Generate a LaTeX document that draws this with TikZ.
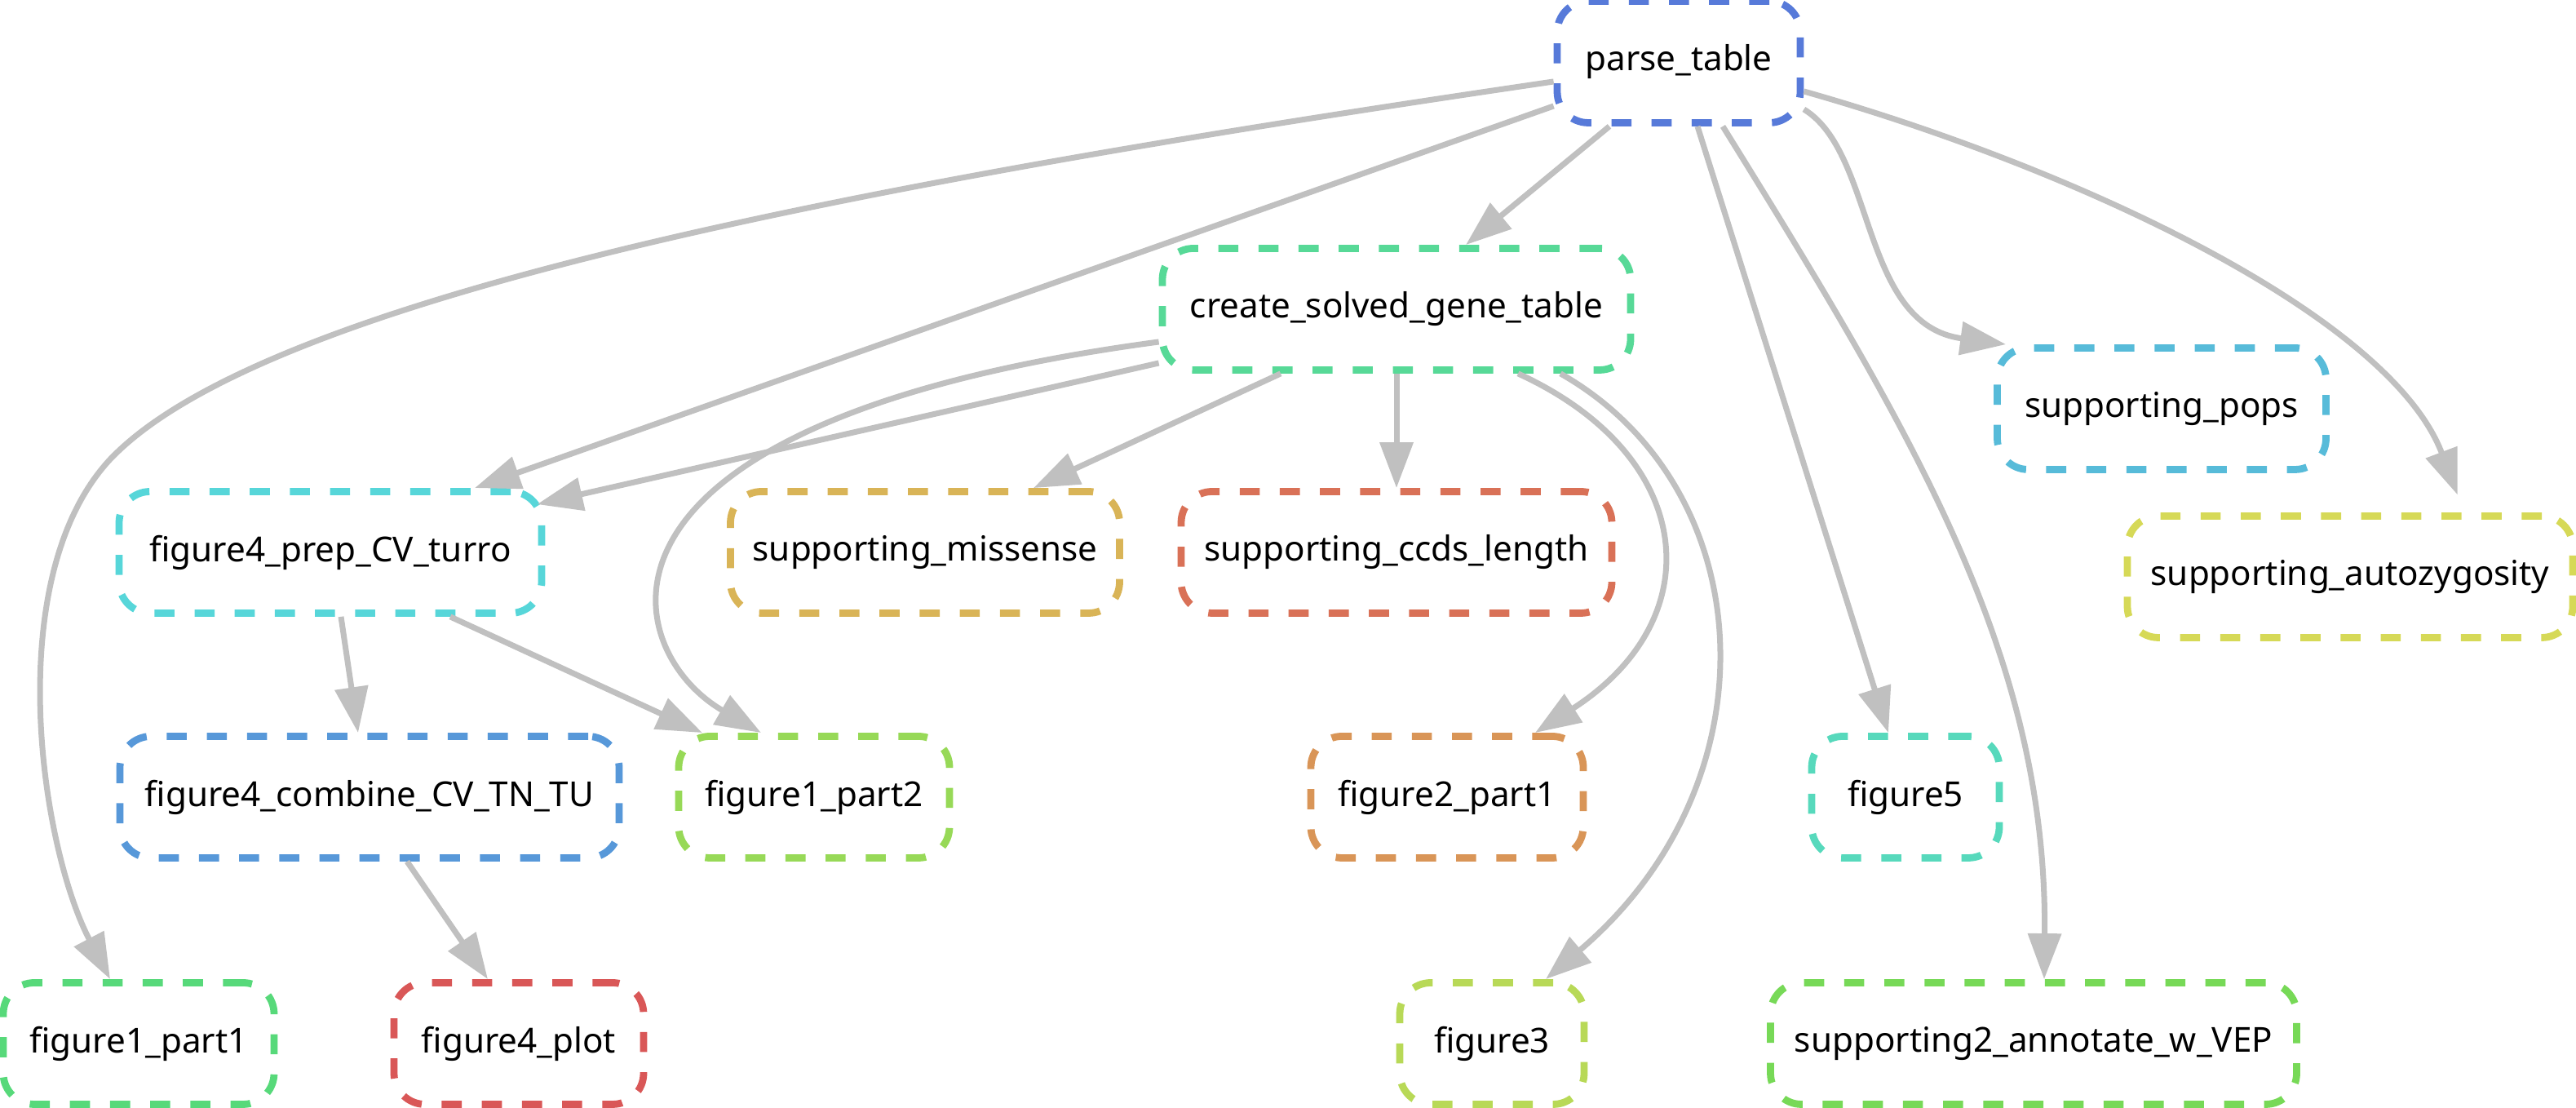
\documentclass[tikz,border=0pt]{standalone}
\usepackage{fontspec}
\setmainfont{Noto Sans}
\usepackage{xcolor}
\usepackage{tikz}
\usetikzlibrary{arrows.meta,positioning}

\definecolor{edgegray}{HTML}{C0C0C0}
\definecolor{cParse}{HTML}{577AD9}
\definecolor{cCreate}{HTML}{57D997}
\definecolor{cPops}{HTML}{57BBD9}
\definecolor{cAutozyg}{HTML}{D6D957}
\definecolor{cPrep}{HTML}{57D6D9}
\definecolor{cMissense}{HTML}{D9B457}
\definecolor{cCcds}{HTML}{D97157}
\definecolor{cCombine}{HTML}{5798D9}
\definecolor{cFigOneTwo}{HTML}{97D957}
\definecolor{cFigTwoOne}{HTML}{D99557}
\definecolor{cFigFive}{HTML}{57D9BC}
\definecolor{cFigOneOne}{HTML}{57D97A}
\definecolor{cPlot}{HTML}{D95757}
\definecolor{cFigThree}{HTML}{B8D957}
\definecolor{cVep}{HTML}{77D957}

\begin{document}
\begin{tikzpicture}[
  job/.style={rectangle, draw, rounded corners=0.38cm, minimum height=1.49cm,
    line width=2.5pt, dash pattern=on 7pt off 7pt, inner sep=0pt,
    font=\fontsize{12}{14}\selectfont},
  edge/.style={draw=edgegray, line width=2pt,
    -{Triangle[length=0.56cm,width=0.40cm]}}
]
  \useasboundingbox (0,0) rectangle (31.58,13.58);

  % rules
  \node[job, draw=cParse, minimum width=2.98cm] (parse) at (20.58,12.82) {parse\_table};
  \node[job, draw=cCreate, minimum width=5.74cm] (create) at (17.12,9.79) {create\_solved\_gene\_table};
  \node[job, draw=cPops, minimum width=4.03cm] (pops) at (26.50,8.57) {supporting\_pops};
  \node[job, draw=cPrep, minimum width=5.18cm] (prep) at (4.05,6.81) {figure4\_prep\_CV\_turro};
  \node[job, draw=cMissense, minimum width=4.77cm] (missense) at (11.34,6.81) {supporting\_missense};
  \node[job, draw=cCcds, minimum width=5.28cm] (ccds) at (17.12,6.81) {supporting\_ccds\_length};
  \node[job, draw=cAutozyg, minimum width=5.46cm] (autozyg) at (28.81,6.51) {supporting\_autozygosity};
  \node[job, draw=cCombine, minimum width=6.12cm] (combine) at (4.53,3.81) {figure4\_combine\_CV\_TN\_TU};
  \node[job, draw=cFigOneTwo, minimum width=3.32cm] (fig1p2) at (9.98,3.81) {figure1\_part2};
  \node[job, draw=cFigTwoOne, minimum width=3.34cm] (fig2p1) at (17.74,3.81) {figure2\_part1};
  \node[job, draw=cFigFive, minimum width=2.30cm] (fig5) at (23.36,3.81) {figure5};
  \node[job, draw=cFigOneOne, minimum width=3.32cm] (fig1p1) at (1.70,0.79) {figure1\_part1};
  \node[job, draw=cPlot, minimum width=3.06cm] (plot) at (6.36,0.79) {figure4\_plot};
  \node[job, draw=cFigThree, minimum width=2.26cm] (fig3) at (18.29,0.79) {figure3};
  \node[job, draw=cVep, minimum width=6.45cm] (vep) at (24.93,0.79) {supporting2\_annotate\_w\_VEP};

  % dependencies
  \draw[edge] ([xshift=-0.85cm]parse.south) -- ([xshift=0.85cm]create.north);
  \draw[edge] ([yshift=-0.24cm]parse.west) .. controls (11,11.4) and (3.3,10.0) .. (1.35,7.95)
    .. controls (0.0,6.5) and (0.5,3.2) .. ([xshift=-0.35cm]fig1p1.north);
  \draw[edge] ([yshift=-0.54cm]parse.west) -- ([xshift=1.77cm]prep.north);
  \draw[edge] ([xshift=0.23cm]parse.south) -- ([xshift=-0.21cm]fig5.north);
  \draw[edge] ([xshift=0.54cm]parse.south) .. controls (23.5,8.2) and (25.1,5.5) .. ([xshift=0.13cm]vep.north);
  \draw[edge] ([yshift=-0.58cm]parse.east) .. controls (23.0,11.7) and (22.8,9.6) .. ([xshift=0.15cm]pops.north west);
  \draw[edge, shorten >=0.23cm] ([yshift=-0.36cm]parse.east) .. controls (25.5,11.5) and (29.3,9.7) .. ([xshift=1.40cm]autozyg.north);

  \draw[edge] ([yshift=-0.66cm]create.west) -- ([shift={(-0.1cm,-0.2cm)}]prep.north east);
  \draw[edge] ([yshift=-0.40cm]create.west) .. controls (6.8,8.4) and (7.6,5.6) .. ([xshift=-0.65cm]fig1p2.north);
  \draw[edge] ([xshift=-1.42cm]create.south) -- ([xshift=1.33cm]missense.north);
  \draw[edge] (create.south) -- (ccds.north);
  \draw[edge] ([xshift=1.49cm]create.south) .. controls (20.8,8.0) and (21.0,6.0) .. ([xshift=1.08cm]fig2p1.north);
  \draw[edge] ([xshift=2.01cm]create.south) .. controls (21.6,7.6) and (21.8,4.0) .. ([xshift=0.66cm]fig3.north);

  \draw[edge] ([xshift=0.13cm]prep.south) -- ([xshift=-0.14cm]combine.north);
  \draw[edge] ([xshift=1.47cm]prep.south) -- ([xshift=-1.37cm]fig1p2.north);
  \draw[edge] ([xshift=0.46cm]combine.south) -- ([xshift=-0.38cm]plot.north);
\end{tikzpicture}
\end{document}
